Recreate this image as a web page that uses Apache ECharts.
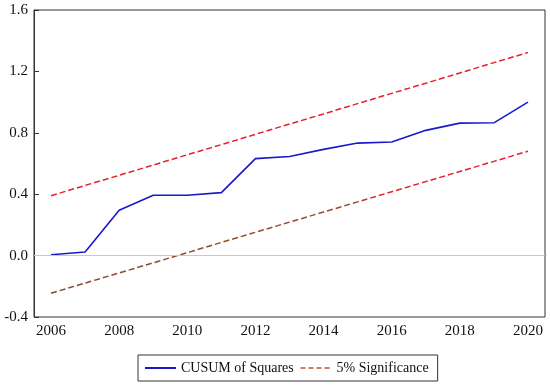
<!DOCTYPE html>
<html>
<head>
<meta charset="utf-8">
<script src="https://cdn.jsdelivr.net/npm/echarts@6/dist/echarts.min.js"></script>
<style>
  html, body { margin: 0; padding: 0; background: #fff; }
  #chart { width: 550px; height: 386px; }
</style>
</head>
<body>
<div id="chart"></div>
<script>
// ==============================================================
// data
// ==============================================================
var years = ['2006', '2007', '2008', '2009', '2010', '2011', '2012', '2013',
             '2014', '2015', '2016', '2017', '2018', '2019', '2020'];
var cusumSq = [0.006, 0.023, 0.295, 0.393, 0.393, 0.41, 0.632, 0.646,
               0.692, 0.733, 0.740, 0.816, 0.863, 0.865, 1.0];
var upperBound = [0.39, 0.457, 0.523, 0.59, 0.657, 0.723, 0.79, 0.857,
                  0.923, 0.99, 1.057, 1.123, 1.19, 1.257, 1.323];
var lowerBound = [-0.245, -0.179, -0.113, -0.047, 0.019, 0.086, 0.152, 0.218,
                  0.284, 0.350, 0.416, 0.482, 0.548, 0.614, 0.680];
var yTicks = [-0.4, 1.6, 0.4];   // min, max, step

var serif = '"Liberation Serif", "Times New Roman", serif';

var chart = echarts.init(document.getElementById('chart'));
var option = {
    animation: false
    , backgroundColor: '#fff'
    , grid: {
        left: 34
        , right: 5
        , top: 10
        , height: 307
        , show: true
        , borderColor: '#333'
        , borderWidth: 1
    }
    , legend: {
        bottom: 5
        , left: 138
        , itemWidth: 31
        , itemGap: 6
        , padding: [6, 9, 6, 6]
        , borderColor: '#333'
        , borderWidth: 1
        , borderRadius: 0
        , itemStyle: { opacity: 0 }
        , textStyle: { fontFamily: serif, fontSize: 14, color: '#111' }
        , data: [
            { name: 'CUSUM of Squares' }
            , { name: '5% Significance', lineStyle: { color: '#b5542a', type: [5, 3], width: 1.5 } }
        ]
    }
    , xAxis: {
        type: 'category'
        , data: years
        , boundaryGap: true
        , axisLine: { lineStyle: { color: '#333', width: 1 } }
        , axisTick: { inside: true, length: 5, interval: 0, lineStyle: { color: '#333' } }
        , axisLabel: { interval: 1, margin: 7, fontFamily: serif, fontSize: 15, color: '#111' }
        , splitLine: { show: false }
    }
    , yAxis: {
        type: 'value'
        , min: yTicks[0]
        , max: yTicks[1]
        , interval: yTicks[2]
        , axisLine: { show: true, lineStyle: { color: '#333', width: 1 } }
        , axisTick: { show: true, inside: true, length: 5, lineStyle: { color: '#333' } }
        , axisLabel: {
            margin: 6, fontFamily: serif, fontSize: 15, color: '#111'
            , formatter: function (v) { return v.toFixed(1); }
        }
        , splitLine: { show: false }
    }
    , series: [
        {
            name: 'CUSUM of Squares'
            , type: 'line'
            , data: cusumSq
            , symbol: 'none'
            , lineStyle: { color: '#1a1acc', width: 1.6 }
            , itemStyle: { color: '#1a1acc' }
            , z: 4
            , markLine: {
                silent: true
                , symbol: 'none'
                , label: { show: false }
                , lineStyle: { color: '#c8c8c8', width: 1, type: 'solid' }
                , data: [{ yAxis: 0 }]
            }
        }
        , {
            name: '5% Significance'
            , type: 'line'
            , data: upperBound
            , symbol: 'none'
            , lineStyle: { color: '#e8202a', width: 1.5, type: [6, 3] }
            , itemStyle: { color: '#b5542a' }
        }
        , {
            name: '5% Significance'
            , type: 'line'
            , data: lowerBound
            , symbol: 'none'
            , lineStyle: {
                width: 1.5
                , type: [6, 3]
                , color: new echarts.graphic.LinearGradient(0, 0, 1, 0, [
                    { offset: 0, color: '#8a4a2a' }
                    , { offset: 0.64, color: '#9a4a2a' }
                    , { offset: 0.68, color: '#e8202a' }
                    , { offset: 1, color: '#e8202a' }
                ])
            }
            , itemStyle: { color: '#b5542a' }
        }
    ]
};
chart.setOption(option);
</script>
</body>
</html>
